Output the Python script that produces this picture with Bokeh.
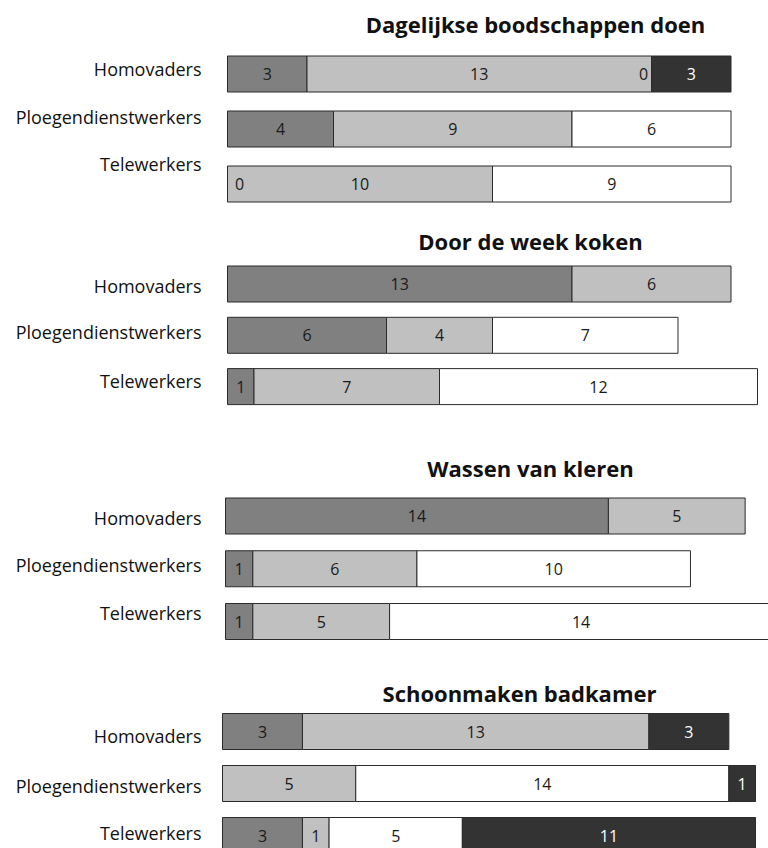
from bokeh.plotting import figure
from bokeh.models import ColumnDataSource, Range1d
from bokeh.layouts import column
from bokeh.embed import file_html
from bokeh.resources import INLINE
from bokeh.core.properties import value

# ---------------- data ----------------
tasks = ["Dagelijkse boodschappen doen", "Door de week koken",
         "Wassen van kleren", "Schoonmaken badkamer"]
groups = ["Homovaders", "Ploegendienstwerkers", "Telewerkers"]

# per group: [donkergrijs, lichtgrijs, wit, zwart]; None = segment absent
boodschappen = [[3, 13, 0, 3], [4, 9, 6, None], [0, 10, 9, None]]
koken = [[13, 6, None, None], [6, 4, 7, None], [1, 7, 12, None]]
wassen = [[14, 5, None, None], [1, 6, 10, None], [1, 5, 14, None]]
badkamer = [[3, 13, None, 3], [None, 5, 14, 1], [3, 1, 5, 11]]
panel_values = [boodschappen, koken, wassen, badkamer]

# ---------------- style / layout ----------------
seg_colors = ["#808080", "#c0c0c0", "#ffffff", "#333333"]
seg_text_colors = ["#1a1a1a", "#1a1a1a", "#1a1a1a", "#ffffff"]
FONT = "Open Sans"

MARGIN = 0
FIG_W = 768
fig_tops = [0, 211, 430, 655]
fig_bottoms = [211, 430, 655, 848]
row0 = [73.5, 283.5, 515.5, 731.0]
row_spacing = [55.0, 51.3, 52.75, 52.0]
frame_left = [227, 227, 225, 222]
px_per_unit = [26.5, 26.5, 27.35, 26.65]
title_pos = [(535, 23), (530, 240), (530, 467), (519, 692)]
label_dy = [[-5.5, -12.5, -20.5], [1.5, -3.8, -6], [1.5, -3.5, -9], [4, 2, -3]]
label_right = 201
bar_px = 36

figs = []
for k in range(4):
    s = px_per_unit[k]
    sp = row_spacing[k]
    x0 = (MARGIN - frame_left[k]) / s
    x1 = (MARGIN + FIG_W - frame_left[k]) / s
    ytop = (fig_tops[k] - row0[k]) / sp
    ybot = (fig_bottoms[k] - row0[k]) / sp
    p = figure(width=FIG_W, height=fig_bottoms[k] - fig_tops[k],
               x_range=Range1d(x0, x1), y_range=Range1d(ybot, ytop),
               output_backend="svg", toolbar_location=None,
               x_axis_location=None, y_axis_location=None, min_border=0)
    p.title.visible = False
    p.outline_line_color = None
    p.xgrid.visible = False
    p.ygrid.visible = False
    p.background_fill_color = "white"
    p.border_fill_color = "white"

    bars = dict(y=[], left=[], right=[], color=[])
    labs = dict(x=[], y=[], text=[], color=[], dx=[])
    for r, vals in enumerate(panel_values[k]):
        cum = 0
        for j, v in enumerate(vals):
            if v is None:
                continue
            if v > 0:
                bars["y"].append(r)
                bars["left"].append(cum)
                bars["right"].append(cum + v)
                bars["color"].append(seg_colors[j])
                labs["x"].append(cum + v / 2)
                labs["dx"].append(0)
            else:
                labs["x"].append(cum)
                labs["dx"].append(12 if cum == 0 else -8)
            labs["y"].append(r)
            labs["text"].append(str(v))
            labs["color"].append(seg_text_colors[j])
            cum += v

    p.hbar(y="y", left="left", right="right", height=bar_px / sp,
           fill_color="color", line_color="#2b2b2b", line_width=1,
           source=ColumnDataSource(bars))
    p.text(x="x", y="y", text="text", text_color="color", x_offset="dx",
           text_align="center", text_baseline="middle",
           text_font=value(FONT), text_font_size="16px",
           source=ColumnDataSource(labs))

    # group labels
    p.text(x=[0] * len(groups), y=list(range(len(groups))), text=groups,
           x_offset=label_right - frame_left[k], y_offset=label_dy[k],
           text_align="right", text_baseline="middle",
           text_font=value(FONT), text_font_size="18px", text_color="#111111")

    # panel title
    tx, ty = title_pos[k]
    p.text(x=[(tx - frame_left[k]) / s], y=[(ty - row0[k]) / sp], text=[tasks[k]],
           text_align="center", text_baseline="middle",
           text_font=value(FONT), text_font_size="22px",
           text_font_style="bold", text_color="#111111")
    figs.append(p)

layout = column(*figs, spacing=0)
open("out.html", "w").write(file_html(layout, INLINE))
